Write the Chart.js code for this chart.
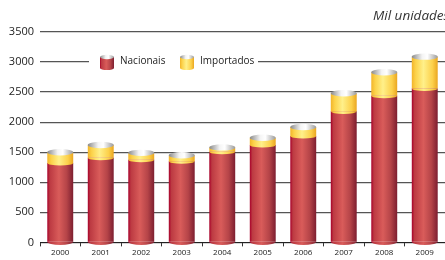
<!DOCTYPE html>
<html><head><meta charset="utf-8">
<script src="https://cdn.jsdelivr.net/npm/chart.js@4/dist/chart.umd.min.js"></script>
<style>html,body{margin:0;padding:0;background:#fff}#w{position:relative;width:445px;height:260px}</style>
</head><body><div id="w"><canvas id="c" width="445" height="260"></canvas></div>
<script>
const categories = ['2000','2001','2002','2003','2004','2005','2006','2007','2008','2009'];
const nacionais = [1320, 1410, 1375, 1350, 1510, 1620, 1770, 2180, 2440, 2560];
const importados = [180, 210, 115, 100, 70, 120, 150, 300, 390, 530];
const yTicks = [0,500,1000,1500,2000,2500,3000,3500];
const seriesNames = ['Nacionais','Importados'];
const unitLabel = 'Mil unidades';

const FONT = '"Open Sans", "Noto Sans", sans-serif';
const CAT_PCT = 0.64;

function barGeom(chart, i){
  const xs = chart.scales.x;
  const cw = xs.width / categories.length;
  const cx = xs.getPixelForValue(i);
  return {cx, half: cw*CAT_PCT/2};
}
function redGrad(ctx, x0, x1){
  const g = ctx.createLinearGradient(x0,0,x1,0);
  g.addColorStop(0,'#a8002a');
  g.addColorStop(0.1,'#bc3a42');
  g.addColorStop(0.45,'#d95c5a');
  g.addColorStop(0.75,'#b54448');
  g.addColorStop(1,'#7d1e30');
  return g;
}
function yelGrad(ctx, x0, x1){
  const g = ctx.createLinearGradient(x0,0,x1,0);
  g.addColorStop(0,'#f2b42a');
  g.addColorStop(0.15,'#fcd24a');
  g.addColorStop(0.45,'#fff08a');
  g.addColorStop(0.8,'#fcd04a');
  g.addColorStop(1,'#eaa620');
  return g;
}
function capGrad(ctx, x0, x1){
  const g = ctx.createLinearGradient(x0,0,x1,0);
  g.addColorStop(0,'#8a8a8a');
  g.addColorStop(0.4,'#f4f4f4');
  g.addColorStop(0.6,'#ffffff');
  g.addColorStop(1,'#9a9a9a');
  return g;
}
function scriptBg(kind){
  return (c)=>{
    const chart=c.chart;
    if(!chart.chartArea || !chart.scales.x) return kind==='r'?'#c04048':'#fcd24a';
    const {cx,half}=barGeom(chart,c.dataIndex);
    return kind==='r'?redGrad(chart.ctx,cx-half,cx+half):yelGrad(chart.ctx,cx-half,cx+half);
  };
}

const cylPlugin = {
  id:'cyl',
  afterDatasetsDraw(chart){
    const ctx=chart.ctx;
    const m0=chart.getDatasetMeta(0), m1=chart.getDatasetMeta(1);
    const ry=3.2;
    ctx.save();
    m0.data.forEach((el,i)=>{
      const half=el.width/2, x=el.x;
      ctx.fillStyle=redGrad(ctx,x-half,x+half);
      ctx.beginPath(); ctx.ellipse(x, el.base, half, ry, 0, 0, Math.PI); ctx.fill();
      const y1=m1.data[i];
      ctx.fillStyle=yelGrad(ctx,x-half,x+half);
      ctx.beginPath(); ctx.ellipse(x, y1.base, half, ry*0.8, 0, 0, Math.PI); ctx.fill();
      ctx.fillStyle=capGrad(ctx,x-half,x+half);
      ctx.beginPath(); ctx.ellipse(x, y1.y, half, ry, 0, 0, Math.PI*2); ctx.fill();
    });
    ctx.restore();
  },
  afterDraw(chart){
    const ctx=chart.ctx;
    ctx.save();
    ctx.font='italic 13.5px '+FONT;
    ctx.fillStyle='#333';
    ctx.textAlign='left'; ctx.textBaseline='middle';
    ctx.fillText(unitLabel, 373, 16);
    const y=chart.scales.y.getPixelForValue(3000);
    ctx.fillStyle='#fff';
    ctx.fillRect(89, y-8, 169, 16);
    const items=[{x:100,name:seriesNames[0],g:redGrad},{x:180,name:seriesNames[1],g:yelGrad}];
    items.forEach(it=>{
      const x0=it.x, x1=it.x+14;
      ctx.fillStyle=it.g(ctx,x0,x1);
      ctx.fillRect(x0, y-5, 14, 11);
      ctx.beginPath(); ctx.ellipse(x0+7, y+6, 7, 2, 0, 0, Math.PI); ctx.fill();
      ctx.fillStyle=capGrad(ctx,x0,x1);
      ctx.beginPath(); ctx.ellipse(x0+7, y-5, 7, 2.2, 0, 0, Math.PI*2); ctx.fill();
      ctx.fillStyle='#222';
      ctx.font='10px '+FONT;
      ctx.textAlign='left'; ctx.textBaseline='middle';
      ctx.fillText(it.name, x1+6, y-1);
    });
    ctx.restore();
  }
};

new Chart(document.getElementById('c'), {
  type:'bar',
  data:{
    labels:categories,
    datasets:[
      {label:seriesNames[0], data:nacionais, backgroundColor:scriptBg('r'), borderWidth:0, categoryPercentage:CAT_PCT, barPercentage:1},
      {label:seriesNames[1], data:importados, backgroundColor:scriptBg('y'), borderWidth:0, categoryPercentage:CAT_PCT, barPercentage:1}
    ]
  },
  options:{
    responsive:false, animation:false,
    layout:{padding:{top:32,right:0,left:0,bottom:0}},
    plugins:{legend:{display:false}, tooltip:{enabled:false}},
    scales:{
      x:{stacked:true,
        grid:{display:true, drawOnChartArea:false, drawTicks:true, tickLength:4, color:'#333', offset:true},
        border:{display:true,color:'#222',width:1},
        ticks:{font:{size:8,family:FONT},color:'#222',padding:2,maxRotation:0}
      },
      y:{stacked:true,min:0,max:3500,
        afterBuildTicks:(s)=>{s.ticks=yTicks.map(v=>({value:v}));},
        afterFit:(s)=>{s.width=40;},
        grid:{color:'#555',lineWidth:1.3,drawTicks:false},
        border:{display:false},
        ticks:{font:{size:11,family:FONT},color:'#222',padding:6,callback:(v)=>String(v)}
      }
    }
  },
  plugins:[cylPlugin]
});
</script></body></html>
